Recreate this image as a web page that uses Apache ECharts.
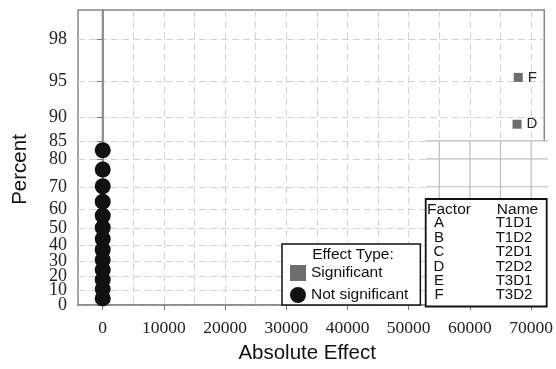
<!DOCTYPE html>
<html>
<head>
<meta charset="utf-8">
<script src="https://cdn.jsdelivr.net/npm/echarts@6/dist/echarts.min.js"></script>
<style>
  html, body { margin: 0; padding: 0; background: #fff; }
  #hn { width: 556px; height: 369px; }
</style>
</head>
<body>
<div id="hn"></div>
<script>
// percent ticks on the half-normal axis
var yTicks = [0, 10, 20, 30, 40, 50, 60, 70, 80, 85, 90, 95, 98];
var xLabelTicks = [0, 10000, 20000, 30000, 40000, 50000, 60000, 70000];
var xGridTicks = [0, 5000, 10000, 15000, 20000, 25000, 30000, 35000, 40000, 45000, 50000, 55000, 60000, 65000, 70000];

// not significant effects (all sit at ~0)
var notSigEffect = [0, 0, 0, 0, 0, 0, 0, 0, 0, 0, 0, 0, 0];
var notSigPercent = [4.6, 11.1, 17.6, 24.2, 30.7, 37.2, 43.7, 50.2, 56.7, 63.5, 70.2, 76.5, 82.5];

// significant effects
var sigFactor = ['D', 'F'];
var sigEffect = [67700, 67900];
var sigPercent = [88.7, 95.4];

// factor table
var tableFactor = ['A', 'B', 'C', 'D', 'E', 'F'];
var tableName = ['T1D1', 'T1D2', 'T2D1', 'T2D2', 'T3D1', 'T3D2'];

// inverse normal cdf (Acklam)
function invNorm(p) {
  var a = [-3.969683028665376e+01, 2.209460984245205e+02, -2.759285104469687e+02, 1.383577518672690e+02, -3.066479806614716e+01, 2.506628277459239e+00];
  var b = [-5.447609879822406e+01, 1.615858368580409e+02, -1.556989798598866e+02, 6.680131188771972e+01, -1.328068155288572e+01];
  var c = [-7.784894002430293e-03, -3.223964580411365e-01, -2.400758277161838e+00, -2.549732539343734e+00, 4.374664141464968e+00, 2.938163982698783e+00];
  var d = [7.784695709041462e-03, 3.224671290700398e-01, 2.445134137142996e+00, 3.754408661907416e+00];
  var pl = 0.02425, q, r;
  if (p < pl) {
    q = Math.sqrt(-2 * Math.log(p));
    return (((((c[0]*q+c[1])*q+c[2])*q+c[3])*q+c[4])*q+c[5]) / ((((d[0]*q+d[1])*q+d[2])*q+d[3])*q+1);
  }
  if (p <= 1 - pl) {
    q = p - 0.5; r = q * q;
    return (((((a[0]*r+a[1])*r+a[2])*r+a[3])*r+a[4])*r+a[5])*q / (((((b[0]*r+b[1])*r+b[2])*r+b[3])*r+b[4])*r+1);
  }
  q = Math.sqrt(-2 * Math.log(1 - p));
  return -(((((c[0]*q+c[1])*q+c[2])*q+c[3])*q+c[4])*q+c[5]) / ((((d[0]*q+d[1])*q+d[2])*q+d[3])*q+1);
}
// percent -> half-normal quantile
function hn(pct) { return invNorm(0.5 + pct / 200); }

var Y_MAX = 2.586;
var yTickZ = yTicks.map(hn);

var serif = 'Liberation Serif';
var sans = 'Liberation Sans';
var gridCol = '#d2d2d2';

function pctLabel(v) {
  for (var i = 0; i < yTickZ.length; i++) {
    if (Math.abs(yTickZ[i] - v) < 1e-6) return String(yTicks[i]);
  }
  return '';
}

var myChart = echarts.init(document.getElementById('hn'));
var option = {
  animation: false,
  grid: {
    left: 78, right: 7, top: 10, bottom: 59,
    show: true, borderColor: '#888', borderWidth: 1.5
  },
  legend: {
    data: ['Significant', 'Not significant'],
    orient: 'vertical',
    left: 282, top: 244,
    padding: [21, 12, 2, 8],
    itemWidth: 16, itemHeight: 16, itemGap: 6,
    borderColor: '#111', borderWidth: 1.5,
    backgroundColor: '#fff',
    selectedMode: false,
    textStyle: { fontFamily: sans, fontSize: 15.5, color: '#111' }
  },
  xAxis: [
    {
      type: 'value',
      min: -4040, max: 72150,
      name: 'Absolute Effect',
      nameLocation: 'middle',
      nameGap: 38,
      nameTextStyle: { fontFamily: sans, fontSize: 20.5, color: '#111', padding: [0, 8, 0, 0] },
      axisLine: { lineStyle: { color: '#888', width: 1.5 } },
      axisTick: { show: false, customValues: xGridTicks },
      splitLine: { show: true, lineStyle: { color: gridCol, type: [7, 4] } },
      axisLabel: {
        customValues: xLabelTicks,
        margin: 14,
        hideOverlap: false,
        fontFamily: serif, fontSize: 17.5, color: '#222',
        formatter: function (v) { return String(v); }
      }
    },
    {
      type: 'value',
      position: 'bottom',
      min: -4040, max: 72150,
      axisLine: { show: false },
      axisLabel: { show: false },
      splitLine: { show: false },
      axisTick: { show: true, customValues: xLabelTicks, length: 5, lineStyle: { color: '#777' } }
    }
  ],
  yAxis: [
    {
      type: 'value',
      min: 0, max: Y_MAX,
      name: 'Percent',
      nameLocation: 'middle',
      nameGap: 47,
      nameRotate: 90,
      nameTextStyle: { fontFamily: sans, fontSize: 20.5, color: '#111', padding: [0, 24, 0, 0] },
      axisLine: { show: true, lineStyle: { color: '#888', width: 1.5 } },
      axisTick: { show: true, customValues: yTickZ, length: 6, lineStyle: { color: '#777' } },
      splitLine: { show: true, lineStyle: { color: gridCol, type: [7, 4] } },
      axisLabel: {
        customValues: yTickZ,
        margin: 11,
        hideOverlap: false,
        fontFamily: serif, fontSize: 18, color: '#222',
        formatter: pctLabel
      }
    },
    {
      // the bottom "0" label (the main axis drops it as overlapping 10)
      type: 'value',
      position: 'left',
      min: 0, max: Y_MAX,
      axisLine: { show: false },
      splitLine: { show: false },
      axisTick: { show: true, customValues: [0], length: 6, lineStyle: { color: '#777' } },
      axisLabel: {
        customValues: [0],
        margin: 11,
        fontFamily: serif, fontSize: 18, color: '#222',
        formatter: pctLabel
      }
    }
  ],
  series: [
    {
      name: 'ref',
      type: 'line',
      data: [[0, 0], [0, Y_MAX]],
      symbol: 'none',
      silent: true,
      z: 1,
      lineStyle: { color: '#8c8c8c', width: 2 }
    },
    {
      name: 'Not significant',
      type: 'scatter',
      symbol: 'circle',
      symbolSize: 16,
      z: 3,
      itemStyle: { color: '#111', opacity: 1 },
      data: notSigEffect.map(function (x, i) { return [x, hn(notSigPercent[i])]; })
    },
    {
      name: 'Significant',
      type: 'scatter',
      symbol: 'rect',
      symbolSize: 9,
      z: 3,
      itemStyle: { color: '#6e6e6e', opacity: 1 },
      label: {
        show: true, position: 'right', distance: 5,
        fontFamily: sans, fontSize: 15, color: '#222',
        formatter: function (p) { return sigFactor[p.dataIndex]; }
      },
      data: sigEffect.map(function (x, i) { return [x, hn(sigPercent[i])]; })
    }
  ]
};
myChart.setOption(option);

// leftover solid grid patch above the factor table
function toPx(x, pct) { return myChart.convertToPixel({ gridIndex: 0 }, [x, hn(pct)]); }
var patchLeft = 426, patchRight = 548, tableTop = 199;
var patchTop = toPx(0, 85)[1];
var g = [];
g.push({ type: 'rect', z: 5, shape: { x: patchLeft, y: patchTop, width: patchRight - patchLeft, height: tableTop - patchTop }, style: { fill: '#fff' } });
[55000, 60000, 65000, 70000].forEach(function (v) {
  var px = toPx(v, 85)[0];
  g.push({ type: 'line', z: 6, shape: { x1: px, y1: patchTop, x2: px, y2: tableTop }, style: { stroke: '#bdbdbd', lineWidth: 1.2 } });
});
[85, 80, 70].forEach(function (p) {
  var py = toPx(0, p)[1];
  g.push({ type: 'line', z: 6, shape: { x1: patchLeft, y1: py, x2: patchRight, y2: py }, style: { stroke: '#bdbdbd', lineWidth: 1.2 } });
});

// legend title
g.push({ type: 'text', z: 20, x: 353, y: 255, style: { text: 'Effect Type:', fontFamily: sans, fontSize: 15.5, fill: '#111', align: 'center', verticalAlign: 'middle' } });

// factor table
g.push({ type: 'rect', z: 20, shape: { x: 425.7, y: tableTop, width: 121, height: 107.5 }, style: { fill: '#fff', stroke: '#111', lineWidth: 1.8 } });
g.push({ type: 'text', z: 21, x: 427, y: 209.5, style: { text: 'Factor', fontFamily: sans, fontSize: 15.5, fill: '#111', align: 'left', verticalAlign: 'middle' } });
g.push({ type: 'text', z: 21, x: 517.5, y: 209.5, style: { text: 'Name', fontFamily: sans, fontSize: 15.5, fill: '#111', align: 'center', verticalAlign: 'middle' } });
g.push({ type: 'text', z: 21, x: 439, y: 216, style: { text: tableFactor.join('\n'), fontFamily: sans, fontSize: 15, lineHeight: 14.4, fill: '#111', align: 'center', verticalAlign: 'top' } });
g.push({ type: 'text', z: 21, x: 514, y: 216, style: { text: tableName.join('\n'), fontFamily: sans, fontSize: 15, lineHeight: 14.4, fill: '#111', align: 'center', verticalAlign: 'top' } });

myChart.setOption({ graphic: g });
</script>
</body>
</html>
